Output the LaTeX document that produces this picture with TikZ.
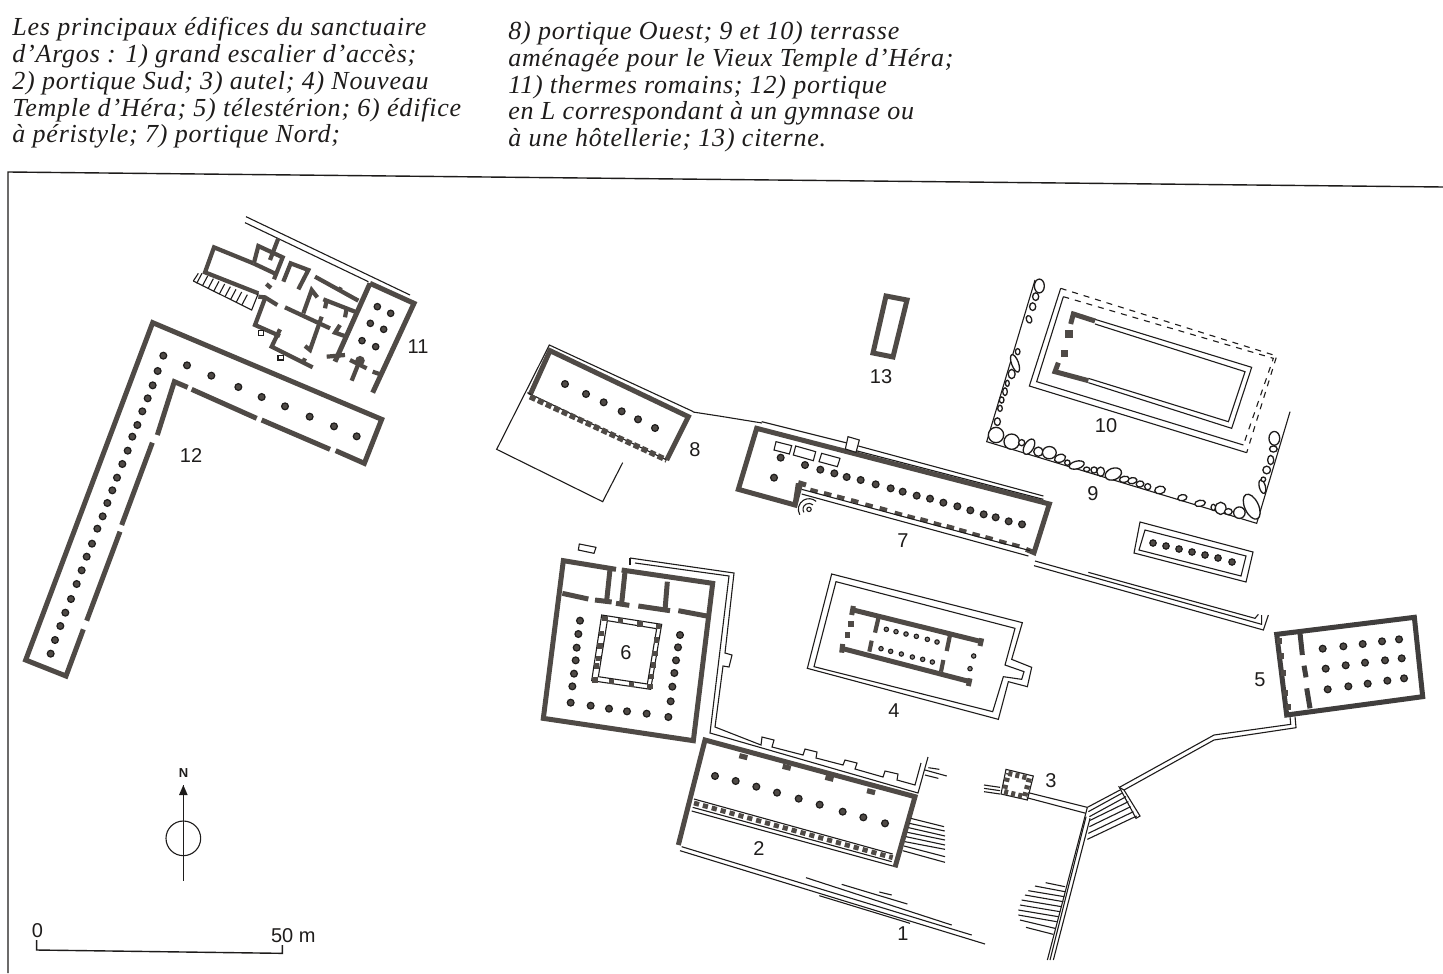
\documentclass[tikz,border=0pt]{standalone}
\usepackage{fontspec}
\setmainfont{Liberation Serif}
\newfontfamily\plansans{Liberation Sans}
\definecolor{wallc}{HTML}{4F4A46}
\definecolor{inkc}{HTML}{1E1C1B}
\begin{document}
\begin{tikzpicture}[x=0.5pt,y=-0.5pt]
\tikzset{
  crop/.style={x=0.16667pt,y=-0.16667pt},
  thinl/.style={draw=inkc,line width=0.55pt},
  wall/.style={draw=wallc,line width=2.5pt,line join=miter,line cap=butt},
  walls/.style={draw=wallc,line width=2.1pt,line join=miter,line cap=butt},
  colm/.style={draw=inkc,fill=wallc,line width=0.6pt},
  pier/.style={draw=wallc,line width=2pt},
  stoa/.style={draw=wallc,line width=2.4pt},
  stone/.style={draw=inkc,fill=white,line width=0.65pt},
  num/.style={font=\plansans\fontsize{10}{10}\selectfont,text=inkc,inner sep=0pt},
  caption/.style={font=\itshape\addfontfeatures{LetterSpace=3}\fontsize{13}{13.4}\selectfont,text=inkc,align=left,anchor=north west,inner sep=0pt}
}
\useasboundingbox (0,0) rectangle (1443,973);
\fill[white] (0,0) rectangle (1443,973);
% caption
\node[caption] (capa) at (12,17) {Les principaux édifices du sanctuaire\\d’Argos : 1) grand escalier d’accès;\\2) portique Sud; 3) autel; 4) Nouveau\\Temple d’Héra; 5) télestérion; 6) édifice\\à péristyle; 7) portique Nord;};
\node[caption] (capb) at (508,21) {8) portique Ouest; 9 et 10) terrasse\\aménagée pour le Vieux Temple d’Héra;\\11) thermes romains; 12) portique\\en L correspondant à un gymnase ou\\à une hôtellerie; 13) citerne.};
% frame
\draw[thinl,line width=0.7pt] (8,973) -- (8,172) -- (1443,187);
% 12
\begin{scope}[shift={(15,310)},crop]
\draw[wall] (962,422) -- (1048,460) -- (1100,328) -- (413,38) -- (32,1050) -- (153,1098) -- (205,958);
\draw[wall] (427,375) -- (478,215) -- (518,232);
\draw[wall] (530,238) -- (725,325);
\draw[wall] (740,330) -- (945,418);
\draw[wall] (412,398) -- (320,645);
\draw[wall] (315,665) -- (215,932);
\foreach \x/\y in {445/137,428/183,413/226,398/265,382/304,367/345,352/380,338/422,322/462,306/503,292/541,277/579,263/619,247/656,231/701,215/740,200/781,185/822,168/867,151/908,136/948,120/990,107/1031,516/166,589/197,670/231,740/261,810/289,884/320,957/349,1025/379}
  \draw[colm] (\x,\y) circle (1.7pt);
\end{scope}
% 11
\begin{scope}[shift={(190,210)},crop]
\draw[thinl] (168,20) -- (660,255);
\draw[thinl] (165,38) -- (535,215);
\draw[wall] (540,220) -- (672,280) -- (548,548);
\draw[wall] (540,220) -- (435,455);
\draw[walls] (410,440) -- (465,435);
\draw[walls] (548,485) -- (568,492);
\foreach \x/\y in {562/290,602/310,541/340,581/358,516/392,557/410}
  \draw[colm] (\x,\y) circle (1.6pt);
\draw[walls] (190,160) -- (72,112) -- (45,187) -- (205,250);
\draw[walls] (190,160) -- (258,192);
\draw[thinl] (10,213) -- (185,300) -- (205,250);
\draw[thinl] (10,213) -- (25,190);
\foreach \k in {0,...,8}
  \draw[thinl] ({36+\k*17},{190+\k*8}) -- ({20+\k*17},{220+\k*8});
\draw[walls] (205,260) -- (225,262) -- (262,285);
\draw[walls] (225,265) -- (195,345) -- (270,378);
\draw[walls] (270,358) -- (245,410) -- (368,472);
\draw[walls] (345,445) -- (338,460);
\draw[thinl,fill=white] (205,362) rectangle (221,376);
\draw[thinl,fill=white] (264,436) rectangle (280,450);
\draw[walls] (229,222) -- (243,234);
\draw[walls] (192,158) -- (205,108) -- (278,142) -- (252,208);
\draw[walls] (265,85) -- (240,150);
\draw[walls] (280,215) -- (302,160) -- (355,180) -- (325,238);
\draw[walls] (375,200) -- (505,272);
\draw[walls] (445,235) -- (455,240);
\draw[walls] (340,310) -- (365,240) -- (382,262);
\draw[walls] (285,292) -- (420,355);
\draw[walls] (395,320) -- (360,420) -- (345,408);
\draw[walls] (400,268) -- (495,305);
\draw[walls] (410,270) -- (405,295);
\draw[walls] (470,295) -- (465,322);
\draw[walls] (450,345) -- (435,368) -- (470,380);
\draw[walls] (480,450) -- (530,475);
\draw[walls] (505,462) -- (485,512);
\fill[wallc] (510,452) circle (2.4pt);
\end{scope}
% 13
\draw[wall] (886,296) -- (907,300) -- (893,357) -- (873,353) -- cycle;
% 8
\begin{scope}[shift={(490,340)},crop]
\draw[thinl] (610,215) -- (178,15) -- (20,328) -- (338,485) -- (398,368);
\draw[wall] (120,165) -- (180,32) -- (595,230) -- (530,360);
\draw[thinl] (112,158) -- (530,360);
\draw[stoa,dash pattern=on 3pt off 1.4pt,line width=2.8pt] (120,170) -- (530,360);
\foreach \x/\y in {225/132,288/162,341/187,395/214,444/238,495/264}
  \draw[colm] (\x,\y) circle (1.7pt);
\end{scope}
\draw[thinl] (693,412) -- (719,416) -- (762,423);
% 7
\begin{scope}[shift={(730,420)},crop]
\draw[wall] (205,190) -- (195,255) -- (25,208) -- (80,25) -- (958,252) -- (912,398) -- (888,388);
\draw[wall] (195,255) -- (212,190) -- (228,195);
\draw[thinl] (95,5) -- (355,70);
\draw[thinl] (385,78) -- (940,228);
\draw[thinl] (378,92) -- (940,238);
\draw[thinl,fill=white] (354,50) -- (388,60) -- (378,97) -- (346,87) -- cycle;
\draw[thinl,fill=white] (138,65) -- (185,77) -- (178,102) -- (132,90) -- cycle;
\draw[thinl,fill=white] (197,78) -- (257,95) -- (250,122) -- (190,105) -- cycle;
\draw[thinl,fill=white] (275,100) -- (330,115) -- (322,140) -- (267,125) -- cycle;
\foreach \x/\y in {132/173,152/113,225/135,271/149,313/160,350/171,392/180,437/193,482/205,518/215,560/227,600/236,640/248,682/259,721/271,761/283,797/292,836/304,876/313}
  \draw[colm] (\x,\y) circle (1.7pt);
\foreach \x/\y in {252/212,293/222,332/232,374/243,417/256,460/267,505/281,543/291,582/300,622/312,661/321,698/332,738/344,777/354,818/366,857/376}
  \draw[pier] ({\x-11},{\y-3}) -- ({\x+11},{\y+3});
\draw[thinl] (215,208) -- (900,392);
\draw[thinl] (215,222) -- (895,408);
\draw[thinl] (237,268) circle (1.1pt);
\draw[thinl] (237,268) ++(150:18) arc (150:312:18);
\draw[thinl] (237,268) ++(150:32) arc (150:312:32);
\end{scope}
% 6
\begin{scope}[shift={(530,530)},crop]
\draw[thinl,fill=white] (148,42) -- (198,52) -- (192,70) -- (145,60) -- cycle;
\draw[wall] (258,118) -- (100,92) -- (40,565) -- (490,632) -- (548,160) -- (275,120);
\draw[wall] (97,190) -- (175,207);
\draw[wall] (195,210) -- (245,216);
\draw[wall] (258,220) -- (298,226);
\draw[wall] (325,228) -- (420,242);
\draw[wall] (445,242) -- (530,258);
\draw[wall] (240,118) -- (230,212);
\draw[wall] (285,125) -- (275,220);
\draw[wall] (412,155) -- (405,240);
\draw[thinl] (215,255) -- (395,283) -- (362,478) -- (185,452) -- cycle;
\draw[thinl] (232,272) -- (380,296) -- (352,462) -- (205,440) -- cycle;
\foreach \x/\y in {225/265,272/271,330/282,385/290,195/450,245/455,305/463,360/470,215/310,210/348,205/385,200/408,380/330,375/370,370/405,365/440}
  \fill[wallc] ({\x-8},{\y-8}) rectangle ({\x+8},{\y+8});
\foreach \x/\y in {150/272,145/312,140/353,137/391,132/431,127/469,122/518,182/527,237/536,291/544,350/551,415/561,450/315,444/352,438/391,433/429,427/470,422/514}
  \draw[colm] (\x,\y) circle (1.7pt);
\end{scope}
% enceinte de 6 et 2
\draw[thinl] (630,558) -- (630,565);
\draw[thinl] (630,558) -- (734,573) -- (725,653) -- (732,655) -- (729,667) -- (723,666) -- (715,727) -- (761,745) -- (762,737) -- (774,740) -- (772,747) -- (803,755) -- (805,749) -- (817,752) -- (816,758) -- (843,765) -- (845,760) -- (857,763) -- (855,769) -- (883,777) -- (885,771) -- (898,774) -- (897,780) -- (915,785) -- (921,763);
\draw[thinl] (635,563) -- (729,576) -- (710,733) -- (918,793) -- (928,757);
% 2 et 1
\begin{scope}[shift={(670,730)},crop]
\draw[wall] (25,345) -- (105,30) -- (735,200) -- (675,412);
\foreach \x/\y in {220/80,350/112,478/145,603/185}
  \draw[pier,line width=2.6pt] ({\x-12},{\y-3}) -- ({\x+12},{\y+3});
\draw[thinl] (72,207) -- (668,372);
\draw[thinl] (68,232) -- (665,395);
\draw[stoa,dash pattern=on 2.6pt off 2pt] (72,219) -- (668,383);
\draw[thinl] (65,243) -- (668,408);
\foreach \x/\y in {135/138,197/153,259/170,321/188,386/206,449/224,518/245,580/262,645/280}
  \draw[colm] (\x,\y) circle (1.7pt);
\foreach \a/\b/\c/\d in {722/265/822/290,718/280/824/303,716/293/825/318,712/307/825/330,708/320/825/345,705/335/825/358,702/348/825/380,698/362/825/397}
  \draw[thinl] (\a,\b) -- (\c,\d);
\draw[thinl] (775,113) -- (808,118);
\draw[thinl] (765,120) -- (830,138);
\draw[thinl] (765,135) -- (805,145);
\draw[thinl] (942,165) -- (990,172);
\draw[thinl] (942,175) -- (990,182);
\draw[thinl] (942,185) -- (990,192);
\draw[thinl] (35,350) -- (905,615);
\draw[thinl] (30,362) -- (945,642);
\draw[thinl] (408,443) -- (845,585);
\draw[thinl] (515,463) -- (712,522);
\draw[thinl] (628,486) -- (665,495);
\draw[thinl] (448,497) -- (720,580);
\end{scope}
% 4
\begin{scope}[shift={(800,570)},crop]
\draw[thinl] (95,12) -- (667,158) -- (635,268) -- (695,292) -- (682,350) -- (625,335) -- (595,448) -- (22,295) -- cycle;
\draw[thinl] (108,35) -- (645,175) -- (615,285) -- (672,305) -- (665,328) -- (610,320) -- (578,425) -- (42,290) -- cycle;
\draw[wall] (160,120) -- (545,215);
\draw[wall] (125,235) -- (510,335);
\draw[wall] (160,108) -- (155,135);
\draw[wall] (545,205) -- (540,228);
\draw[wall] (128,222) -- (125,248);
\draw[wall] (510,325) -- (505,348);
\draw[walls] (235,145) -- (225,188);
\draw[walls] (450,195) -- (440,243);
\draw[walls] (215,212) -- (208,245);
\draw[walls] (430,270) -- (423,305);
\fill[wallc] (145,154) rectangle (161,170);
\fill[wallc] (135,187) rectangle (151,203);
\foreach \x/\y in {259/178,288/185,318/192,349/199,382/208,411/216,243/236,272/244,304/252,337/261,368/268,397/276,521/258,510/296}
  \draw[thinl,fill=wallc!70] (\x,\y) circle (1.1pt);
\end{scope}
% 9 et 10
\begin{scope}[shift={(980,270)},crop]
\draw[thinl] (165,30) -- (20,515) -- (830,760) -- (930,425);
\draw[thinl] (800,548) -- (148,348) -- (242,55);
\draw[thinl] (790,525) -- (170,335) -- (250,80);
\draw[thinl,dashed] (242,55) -- (890,258) -- (800,548);
\draw[thinl,dashed] (250,80) -- (880,265) -- (790,525);
\draw[thinl] (345,148) -- (815,292) -- (755,475) -- (325,338);
\draw[thinl] (345,162) -- (795,305) -- (745,455) -- (325,325);
\draw[wall] (345,153) -- (280,132) -- (272,162);
\draw[wall] (325,332) -- (225,305) -- (235,278);
\fill[wallc] (256,180) rectangle (278,204);
\fill[wallc] (243,240) rectangle (264,262);
\foreach \x/\y/\a/\b/\r in {178/48/13/18/0,167/80/8/10/0,158/110/8/10/0,147/148/7/10/20,113/245/6/8/0,105/280/9/24/20,95/312/9/12/0,82/340/5/8/0,75/365/6/10/0,65/390/6/8/0,60/415/6/8/0,52/455/8/10/0,48/495/20/20/0,95/515/20/20/0,125/518/8/8/0,147/530/12/22/-30,175/545/12/12/0,208/548/18/16/0,240/565/15/10/20,262/578/7/7/0,290/585/20/10/15,320/598/8/6/0,342/600/8/8/0,362/605/10/12/0,400/612/22/15/20,433/628/13/8/10,457/632/12/8/10,480/642/10/8/10,503/650/8/8/0,540/660/14/10/10,607/683/12/8/10,660/700/14/8/10,700/712/6/8/0,722/715/14/16/0,745/725/10/8/0,778/728/15/15/0,815/710/18/35/25,847/650/8/18/15,850/628/6/6/0,860/600/10/10/0,872/570/8/12/0,880/537/10/8/0,883/505/14/18/0}
  \draw[stone,rotate around={\r:(\x,\y)}] (\x,\y) ellipse [x radius={\a*1.15},y radius={\b*1.15}];
\end{scope}
% portique a 7 colonnes
\draw[thinl] (1140,522) -- (1253,552) -- (1246,582) -- (1134,553) -- cycle;
\draw[thinl] (1145,530) -- (1246,556) -- (1241,576) -- (1139,550) -- cycle;
\foreach \x/\y in {1153/543,1166/546,1179/549,1192/552,1205/555,1218/558,1232/562}
  \draw[colm] (\x,\y) circle (1.6pt);
% lignes sud
\begin{scope}[shift={(1020,545)},crop]
\draw[thinl] (45,48) -- (725,238) -- (725,210);
\draw[thinl] (42,62) -- (730,255) -- (745,210);
\draw[thinl] (205,82) -- (705,220) -- (715,208);
\end{scope}
% 5, 3, route
\begin{scope}[shift={(1000,600)},crop]
\draw[wall,draw=inkc!85] (830,103) -- (1243,52) -- (1268,290) -- (860,345) -- cycle;
\draw[wall,draw=inkc!85] (900,100) -- (907,165);
\draw[wall,draw=inkc!85] (912,197) -- (918,232);
\draw[wall,draw=inkc!85] (920,265) -- (930,325);
\foreach \x/\y in {838/122,845/168,850/220,857/278,865/322}
  \fill[wallc] ({\x-8},{\y-9}) rectangle ({\x+8},{\y+9});
\foreach \x/\y in {968/146,1030/139,1088/132,1146/124,1197/118,977/206,1037/196,1095/188,1155/181,1205/175,983/268,1045/259,1103/251,1162/242,1212/235}
  \draw[colm] (\x,\y) circle (1.7pt);
\draw[thinl] (870,350) -- (872,373) -- (642,405) -- (358,562);
\draw[thinl] (885,350) -- (888,383) -- (642,420) -- (372,570);
\draw[thinl] (358,562) -- (408,655) -- (420,648) -- (372,570) -- cycle;
\foreach \a/\b/\c/\d in {262/622/360/570,265/635/365/580,268/650/378/590,268/662/385/605,268/680/392/620,265/700/400/635,262/718/410/648}
  \draw[thinl] (\a,\b) -- (\c,\d);
\draw[thinl] (262,622) -- (142,1080);
\draw[thinl] (258,650) -- (150,1080);
\draw[thinl] (270,655) -- (160,1080);
\draw[thinl] (85,578) -- (262,622);
\draw[thinl] (80,593) -- (258,640);
\draw[thinl] (18,508) -- (100,528) -- (82,600) -- (3,582) -- cycle;
\draw[wallc,line width=2.6pt,dash pattern=on 2pt off 1.6pt] (25,520) -- (88,535) -- (74,590) -- (12,575) -- cycle;
\foreach \a/\b/\c/\d in {137/848/195/860,105/858/195/875,85/872/193/890,75/885/190/905,65/900/185/920,60/915/180/935,55/930/175/950,55/945/170/965,60/960/165/985,78/982/160/1003}
  \draw[thinl] (\a,\b) -- (\c,\d);
\end{scope}
% nord et echelle
\begin{scope}[shift={(20,760)},crop]
\coordinate (nfoot) at (490,362);
\coordinate (ntip) at (490,75);
\draw[thinl] (nfoot) -- (ntip);
\fill[inkc] (ntip) -- (503,105) -- (477,105) -- cycle;
\draw[thinl] (490,235) circle (52);
\node[num,font=\plansans\bfseries\fontsize{6.5}{6.5}\selectfont] (north) at (491,40) {N};
\coordinate (bara) at (50,540);
\coordinate (barb) at (787,555);
\draw[thinl,line width=0.7pt] (bara) -- (50,570) -- (787,580) -- (barb);
\node[num] (zero) at (52,512) {0};
\node[num] (fifty) at (820,527) {50 m};
\end{scope}
% numeros
\foreach \n/\x/\y in {1/903/934,2/759/849,3/1051/781,4/894/711,5/1260/680,6/626/653,7/903/541,8/695/450,9/1093/494,10/1106/426,11/418/347,12/191/456,13/881/377}
  \node[num] (n\n) at (\x,\y) {\n};
\end{tikzpicture}
\end{document}
